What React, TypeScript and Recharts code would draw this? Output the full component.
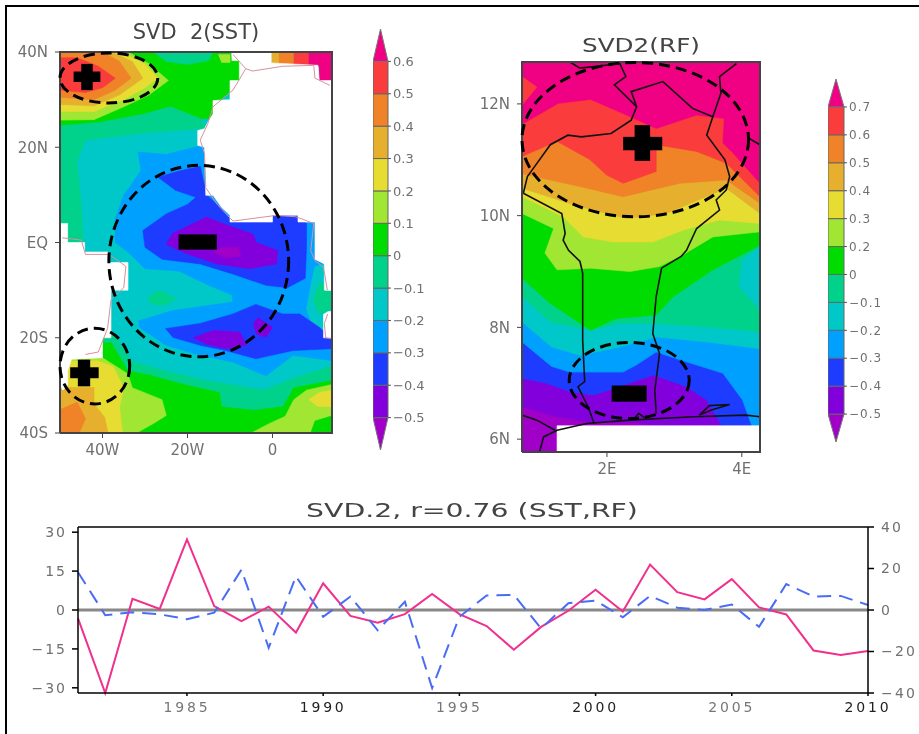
import React from "react";
import {
  Bar,
  BarChart,
  Line,
  LineChart,
  ReferenceLine,
  Scatter,
  ScatterChart,
  XAxis,
  YAxis,
} from "recharts";

type Pt = [number, number];

const MAGENTA = "#f00082";
const RED = "#fa3c3c";
const ORANGE = "#f08228";
const GOLD = "#e6af2d";
const YELLOW = "#e6dc32";
const LIME = "#a0e632";
const GREEN = "#00dc00";
const TEAL = "#00d28c";
const CYAN = "#00c8c8";
const SKY = "#00a0ff";
const BLUE = "#1e3cff";
const VIOLET = "#8200dc";
const PURPLE = "#a000c8";

// colour bars, bottom to top
const scaleColors = [PURPLE, VIOLET, BLUE, SKY, CYAN, TEAL, GREEN, LIME, YELLOW, GOLD, ORANGE, RED, MAGENTA];
const sstScaleLabels = ["-0.5", "-0.4", "-0.3", "-0.2", "-0.1", "0", "0.1", "0.2", "0.3", "0.4", "0.5", "0.6"];
const rfScaleLabels = ["-0.5", "-0.4", "-0.3", "-0.2", "-0.1", "0", "0.2", "0.3", "0.4", "0.5", "0.6", "0.7"];

// time series
const years = [
  1981, 1982, 1983, 1984, 1985, 1986, 1987, 1988, 1989, 1990, 1991, 1992, 1993, 1994, 1995,
  1996, 1997, 1998, 1999, 2000, 2001, 2002, 2003, 2004, 2005, 2006, 2007, 2008, 2009, 2010,
];
const sstSeries = [
  -3.2, -32, 4.3, 0.4, 27.2, 1.5, -4.3, 1.3, -8.7, 10.3, -2.3, -4.9, -1.6, 6.2, -1.6,
  -6.2, -15.3, -6.5, -0.3, 7.8, -0.6, 17.5, 6.9, 4.1, 11.9, 1, -1.7, -15.6, -17.3, -15.8,
];
const rfSeries = [
  18.2, -2.5, -1.1, -2.1, -4.4, -1.3, 19.4, -18.2, 16.2, -3.3, 6.5, -9.8, 4, -37.6, -3.3,
  7, 7.3, -8.9, 3.3, 4.5, -3.5, 6.8, 1.1, 0, 2.6, -8.1, 12.5, 6.5, 6.8, 2.4,
];
const yearTicks = [1985, 1990, 1995, 2000, 2005, 2010];
const darkYears = [1990, 2000, 2010];
const leftTicks = [-30, -15, 0, 15, 30];
const rightTicks = [-40, -20, 0, 20, 40];

// SST map, contour regions in lon/lat, painted in order
const sstLayers: { color: string; points: Pt[] }[] = [
  { color: CYAN, points: [[-50, -40], [14, -40], [14, 40], [-50, 40]] },
  { color: GREEN, points: [[-50, 24.5], [-40.7, 25.2], [-30, 27], [-24, 28.5], [-17, 26], [-14, 26], [-12, 30], [-7, 34], [-7, 40], [-50, 40]] },
  { color: TEAL, points: [[-28, 40], [-25, 38], [-20, 37.4], [-15, 38.2], [-14, 40]] },
  { color: LIME, points: [[-12.8, 39.5], [-10, 39.5], [-10, 37.8], [-12, 37.8]] },
  { color: TEAL, points: [[-50, 24.5], [-40.7, 25.2], [-30, 27], [-24, 28.5], [-17, 26], [-15.5, 24], [-30, 23], [-44, 21.5], [-46, 17], [-45, 8], [-44.5, 0], [-50, 0]] },
  { color: GOLD, points: [[-0.3, 37], [2, 37], [2, 40], [-0.3, 40]] },
  { color: ORANGE, points: [[1.5, 37], [5, 37], [5, 40], [1.5, 40]] },
  { color: RED, points: [[5, 37], [8.5, 37], [8.5, 40], [5, 40]] },
  { color: MAGENTA, points: [[8.5, 37], [11, 37], [11, 34], [14, 34], [14, 40], [8.5, 40]] },
  { color: LIME, points: [[-50, 25.7], [-42, 25.8], [-35, 28.5], [-29, 31], [-24.5, 34], [-29, 37.5], [-34, 40], [-50, 40]] },
  { color: YELLOW, points: [[-50, 27.5], [-42, 27.5], [-35, 30], [-30, 32.5], [-27, 34.5], [-30, 37.5], [-36, 40], [-50, 40]] },
  { color: GOLD, points: [[-50, 29], [-42, 28.7], [-36, 31], [-30.5, 34.5], [-33, 38], [-38, 40], [-50, 40]] },
  { color: ORANGE, points: [[-50, 30.5], [-42, 30], [-37, 32], [-33.3, 34.5], [-36, 38], [-40, 40], [-50, 40]] },
  { color: RED, points: [[-50, 32], [-44, 31.5], [-40, 32.5], [-37, 34.5], [-41, 37], [-46, 38.8], [-50, 38.8]] },
  { color: SKY, points: [[-31.7, 19], [-25, 18.5], [-16, 20.5], [14, 20], [14, -24.8], [4.8, -23.7], [-1.5, -28], [-9.3, -25.1], [-17, -23.7], [-25, -21.6], [-31.3, -17.8], [-31.5, -16.5], [-23.5, -14.3], [-9.3, -12.5], [-9.5, -11], [-15, -9], [-22, -6], [-30, -5.5], [-34, -2], [-37, 0], [-37, 5], [-35, 10], [-31, 15]] },
  { color: CYAN, points: [[10, -5], [9, -9], [8, -14], [10, -19], [14, -21], [14, -4]] },
  { color: TEAL, points: [[11, -8.5], [9.5, -12], [11, -15], [14, -14], [14, -9]] },
  { color: TEAL, points: [[-29.3, -11.5], [-26.6, -10], [-22.7, -11.8], [-25.8, -13.2], [-28.6, -12.9]] },
  { color: BLUE, points: [[-27, 13.7], [-22, 15], [-17, 16], [-15.5, 10], [-13, 8], [-10, 5], [1, 6], [6, 6], [8, 4], [8, -1], [7.7, -7.5], [3.5, -9.5], [-1.5, -9], [-9, -6.7], [-17, -4.5], [-26, -3.5], [-30, -1], [-30.5, 2.5], [-25, 6], [-20, 8], [-18, 9.5], [-23, 11]] },
  { color: VIOLET, points: [[-25, -0.3], [-23.5, 1.9], [-15.6, 5.3], [-9.3, 3.2], [-4.6, 1.8], [-3.8, 0], [1.2, -1.7], [1, -4.5], [-5.4, -5.5], [-13, -4.5], [-20, -2.4], [-24.6, -0.6]] },
  { color: PURPLE, points: [[-12, -1], [-8, -1], [-7.5, -2.8], [-11, -3.2], [-14, -2]] },
  { color: BLUE, points: [[-25.2, -18.1], [-17, -17], [-9.3, -15], [-3.9, -13], [2.4, -15], [6.4, -15], [11, -17.8], [14, -20.2], [14, -22.3], [4.8, -22.7], [-3.9, -24.4], [-11, -22.7], [-17, -21.6], [-23.5, -19.9]] },
  { color: VIOLET, points: [[-18.7, -20], [-14, -18.5], [-7.7, -18.8], [-6.2, -21.6], [-11, -22.3], [-15.7, -21.3]] },
  { color: VIOLET, points: [[-4.6, -17.1], [-3.4, -15.8], [0, -17.8], [-1.5, -19.9], [-3.9, -19.2]] },
  { color: TEAL, points: [[-38, -18.5], [-33, -25], [-25, -27], [-15.6, -29], [-2, -31], [4.8, -28.5], [14, -26], [14, -40], [-50, -40], [-50, -20]] },
  { color: GREEN, points: [[-38, -21], [-34, -27], [-29, -27.8], [-20, -30], [-12.5, -31.5], [-12, -34.5], [-4.5, -35.2], [2.5, -34.5], [5, -30.5], [14, -29], [14, -40], [-50, -40], [-50, -21]] },
  { color: LIME, points: [[-5, -40], [-0.7, -38], [3, -36.5], [5, -33], [8, -31], [14, -29.8], [14, -40]] },
  { color: GREEN, points: [[9, -40], [10, -37.5], [14, -36.4], [14, -40]] },
  { color: YELLOW, points: [[8.5, -33], [11, -31.5], [14, -31], [14, -34.5], [10.5, -34.4]] },
  { color: LIME, points: [[-40, -24.2], [-34, -27.6], [-33, -30.5], [-26, -33], [-25, -36.3], [-28, -38], [-32, -40], [-50, -40], [-50, -24]] },
  { color: YELLOW, points: [[-41.5, -24.8], [-37.5, -26], [-35, -30.5], [-36, -34.6], [-35.3, -40], [-50, -40], [-50, -25]] },
  { color: GOLD, points: [[-42, -30.4], [-42, -33.9], [-39.5, -36.7], [-38.7, -40], [-50, -40], [-50, -30.4]] },
  { color: ORANGE, points: [[-46, -33.5], [-44, -37], [-45.5, -40], [-50, -40], [-50, -35]] },
];
const sstLand: Pt[][] = [
  [[-9.7, 40], [-0.3, 40], [-0.3, 37.7], [10.7, 37.2], [11, 34], [14, 34], [14, -10.1], [12.2, -10], [12.2, -4.5], [10, -3.5], [10, 4.3], [6, 4.3], [6, 5.7], [0, 5.7], [0, 4.3], [-10, 4.3], [-10, 5.7], [-12, 7.4], [-14, 9.9], [-15.7, 9.9], [-16, 20], [-17.6, 20.4], [-17.6, 23.5], [-16, 23.9], [-15, 25.6], [-14, 27], [-14, 29.8], [-10, 30], [-10, 34], [-7.8, 34], [-7.8, 38.2], [-9.6, 38.2]],
  [[13, -14.5], [14, -14.5], [14, -20], [12, -20], [12, -15]],
  [[-50, 4], [-48.2, 4], [-48.2, 0], [-44.2, 0], [-44.2, -2], [-38.7, -2], [-38.7, -4.2], [-34, -4.2], [-34, -10], [-38, -10], [-38, -20], [-40, -20], [-40, -24.2], [-47.3, -24.5], [-48.2, -27], [-48.2, -30], [-49.3, -31], [-50, -30]],
];
const sstCoasts: Pt[][] = [
  [[-9.3, 39.5], [-6.3, 36.5], [-4.7, 36], [2.4, 37], [9.7, 37.2], [10, 34.5], [13.5, 33]],
  [[-6.3, 36.5], [-9.3, 32], [-14, 28.5], [-15.2, 25], [-17, 21.5], [-16, 18.7], [-15.7, 11.5], [-13, 8], [-9.3, 4.5], [0.9, 5.7], [5.5, 5.4], [9.7, 4], [9, -1.7], [10, -3.8], [12, -5.2], [12.9, -10]],
  [[13, -15], [12.2, -17], [12.5, -20], [13.8, -20.2]],
  [[-49.5, 1], [-45, 0.5], [-44, -2.5], [-38.5, -2.5], [-34.5, -5], [-35, -9.5], [-38, -12], [-38.8, -18], [-41, -23], [-44, -23.5]],
];
// opposite corners of the dashed rings and of the plus / minus marks
const sstEllipses: Pt[][] = [
  [[-50, 29.3], [-27, 39.8]],
  [[-38.5, -24], [3.8, 16.2]],
  [[-50, -33.9], [-33.6, -18]],
];
const sstBlocks: Pt[][] = [
  [[-45, 32], [-42.3, 37.5]],
  [[-46.8, 33.7], [-40.5, 35.9]],
  [[-22.1, -1.5], [-13.1, 1.7]],
  [[-45.8, -30.2], [-42.9, -24.6]],
  [[-47.6, -28.5], [-40.9, -26.2]],
];

// RF map, lower edge of each contour band, west to east
const rfVioletEdge: Pt[] = [[0.74, 6.58], [1.2, 6.42], [1.75, 6.3], [2.4, 6.3], [3, 6.2], [4.27, 6.2]];
const rfBlueEdge: Pt[] = [[0.74, 7.09], [1.11, 7], [1.45, 6.85], [1.8, 6.79], [2.09, 6.9], [2.69, 7.15], [3.18, 6.94], [3.48, 6.7], [3.72, 6.2], [4.27, 6.2]];
const rfSkyEdge: Pt[] = [[0.74, 7.74], [1.18, 7.3], [1.45, 7.2], [2.24, 7.2], [2.44, 7.33], [2.73, 7.56], [3.08, 7.42], [3.72, 7.18], [4.01, 6.7], [4.16, 6.2], [4.27, 6.2]];
const rfCyanEdge: Pt[] = [[0.74, 8.1], [1.18, 7.65], [1.6, 7.5], [2.19, 7.65], [2.73, 7.83], [3.48, 7.74], [4.27, 7.62]];
const rfTealEdge: Pt[] = [[0.74, 8.55], [1.16, 8.1], [1.76, 7.95], [2.19, 8.07], [2.73, 8.07], [3.48, 8.01], [4.27, 7.92]];
const rfGreenEdge: Pt[] = [[0.74, 8.88], [1.16, 8.43], [1.76, 7.95], [2.14, 8.16], [2.73, 8.22], [2.98, 8.55], [3.57, 9.03], [4.27, 9.47]];
const rfLimeEdge: Pt[] = [[0.74, 10.04], [1.21, 9.77], [1.08, 9.33], [1.26, 9.03], [1.76, 9.06], [2.34, 9], [2.78, 9.09], [3.13, 9.3], [3.57, 9.62], [4.27, 9.71]];
const rfYellowEdge: Pt[] = [[0.74, 10.34], [1.35, 9.98], [1.65, 9.62], [2.09, 9.53], [2.68, 9.53], [3.13, 9.74], [3.67, 9.92], [4.27, 9.86]];
const rfGoldEdge: Pt[] = [[0.74, 10.49], [1.6, 10.16], [2.29, 9.95], [2.88, 10.04], [3.47, 10.34], [3.77, 10.49], [4.27, 10.04]];
const rfOrangeEdge: Pt[] = [[0.74, 10.75], [1.6, 10.52], [2.24, 10.34], [3.08, 10.58], [3.77, 10.64], [4.27, 10.22]];
const rfRedEdge: Pt[] = [[0.74, 11.06], [1.26, 11.33], [1.75, 11], [1.99, 10.73], [2.24, 10.58], [2.73, 10.79], [2.73, 11.27], [3.33, 11.15], [3.77, 10.94], [4.27, 10.34]];
const rfMagentaEdge: Pt[] = [[0.76, 11.65], [1.28, 12.01], [1.76, 12.08], [2.29, 11.8], [2.73, 11.56], [3.33, 11.8], [3.74, 11.74], [3.72, 11.3], [3.87, 11.12], [4.27, 10.58]];
const rfTop: Pt[] = [[4.27, 12.75], [0.74, 12.75]];
const rfLayers: { color: string; points: Pt[] }[] = [
  { color: PURPLE, points: [[0.74, 5.77], [4.27, 5.77], [4.27, 12.75], [0.74, 12.75]] },
  { color: VIOLET, points: [...rfVioletEdge, ...rfTop] },
  { color: BLUE, points: [...rfBlueEdge, ...rfTop] },
  { color: SKY, points: [...rfSkyEdge, ...rfTop] },
  { color: CYAN, points: [...rfCyanEdge, ...rfTop] },
  { color: TEAL, points: [...rfTealEdge, ...rfTop] },
  { color: CYAN, points: [[4.27, 9.45], [4.01, 9.2], [3.96, 8.73], [4.27, 8.31]] },
  { color: GREEN, points: [...rfGreenEdge, ...rfTop] },
  { color: LIME, points: [...rfLimeEdge, ...rfTop] },
  { color: YELLOW, points: [...rfYellowEdge, ...rfTop] },
  { color: GOLD, points: [...rfGoldEdge, ...rfTop] },
  { color: ORANGE, points: [...rfOrangeEdge, ...rfTop] },
  { color: RED, points: [...rfRedEdge, ...rfTop] },
  { color: MAGENTA, points: [...rfMagentaEdge, ...rfTop] },
  { color: RED, points: [[0.74, 12.49], [0.96, 12.3], [0.74, 11.98]] },
];
const rfLand: Pt[][] = [[[1.26, 5.77], [1.26, 6.24], [4.27, 6.24], [4.27, 5.77]]];
const rfBorders: Pt[][] = [
  [[1, 5.77], [1.06, 6.04], [1.26, 6.16], [1.7, 6.28], [2.34, 6.34], [3.28, 6.4], [4.06, 6.43], [4.27, 6.4]],
  [[0.74, 6.43], [0.96, 6.34], [1.23, 6.16]],
  [[1.81, 6.28], [1.72, 6.58], [1.57, 6.94], [1.67, 7.03], [1.64, 7.77], [1.64, 8.97], [1.6, 9.18], [1.43, 9.38], [1.35, 9.56], [1.38, 9.68], [1.33, 10.04], [0.76, 10.4]],
  [[0.76, 10.4], [0.82, 10.7], [0.94, 10.9], [1.16, 11.27], [1.42, 11.44], [1.62, 11.41], [2.06, 11.47], [2.36, 11.71], [2.44, 11.95], [2.11, 12.34], [2.28, 12.49], [2.18, 12.75]],
  [[2.44, 11.95], [2.36, 12.22], [2.83, 12.4], [3.27, 11.92], [3.57, 11.77], [3.48, 11.44], [3.75, 11], [3.82, 10.7], [3.77, 10.46], [3.62, 10.28], [3.67, 10.1], [3.33, 9.77], [3.18, 9.38], [3.1, 9.27], [2.81, 9.06], [2.73, 8.55], [2.68, 7.89], [2.78, 7.53], [2.71, 6.88], [2.73, 6.46]],
  [[3.57, 11.77], [3.69, 12.19], [3.67, 12.49], [3.92, 12.72]],
  [[4.11, 11.38], [4.27, 11.27]],
  [[1.45, 12.75], [1.6, 12.64], [2.18, 12.72]],
  [[3.37, 6.43], [3.52, 6.6], [3.82, 6.62], [3.55, 6.52], [3.37, 6.43]],
  [[2.4, 6.36], [2.47, 6.46], [2.56, 6.38]],
];
const rfEllipses: Pt[][] = [
  [[0.74, 9.98], [4.1, 12.74]],
  [[1.44, 6.37], [3.22, 7.73]],
];
const rfBlocks: Pt[][] = [
  [[2.41, 10.98], [2.64, 11.62]],
  [[2.24, 11.17], [2.82, 11.41]],
  [[2.07, 6.67], [2.59, 6.96]],
];

const FONT = "'DejaVu Sans', sans-serif";
const TICK = "#707070";

const toPoints = (pts: Pt[]) => pts.map(([lon, lat]) => ({ lon, lat }));
const noDot = () => null;

// Scatter hands its scaled points to these, so the rings and blocks follow the axes
const ringLine = (lp: any) => {
  const [a, b] = lp.points;
  return (
    <ellipse
      cx={(a.x + b.x) / 2}
      cy={(a.y + b.y) / 2}
      rx={Math.abs(b.x - a.x) / 2}
      ry={Math.abs(b.y - a.y) / 2}
      fill="none"
      stroke="#000"
      strokeWidth={3}
      strokeDasharray="11 6"
    />
  );
};
const blockLine = (lp: any) => {
  const [a, b] = lp.points;
  return (
    <rect
      x={Math.min(a.x, b.x)}
      y={Math.min(a.y, b.y)}
      width={Math.abs(b.x - a.x)}
      height={Math.abs(b.y - a.y)}
      fill="#000"
    />
  );
};

interface MapProps {
  left: number;
  top: number;
  width: number;
  height: number;
  plotTop: number;
  lonDomain: number[];
  latDomain: number[];
  lonTicks: number[];
  latTicks: number[];
  lonLabel: (v: number) => string;
  latLabel: (v: number) => string;
  layers: { color: string; points: Pt[] }[];
  land: Pt[][];
  lines: Pt[][];
  lineColor: string;
  lineWidth: number;
  ellipses: Pt[][];
  blocks: Pt[][];
}

function MapPanel(p: MapProps) {
  const tick = { fontSize: 15, fill: TICK, fontFamily: FONT };
  const [x0, x1] = p.lonDomain;
  const [y0, y1] = p.latDomain;
  const frame: Pt[] = [[x0, y0], [x1, y0], [x1, y1], [x0, y1], [x0, y0]];
  return (
    <div style={{ position: "absolute", left: p.left, top: p.top }}>
      <ScatterChart width={p.width} height={p.height} margin={{ top: p.plotTop, bottom: 0, left: 0, right: 8 }}>
        <XAxis
          type="number"
          dataKey="lon"
          domain={p.lonDomain}
          ticks={p.lonTicks}
          tickFormatter={p.lonLabel}
          tick={tick}
          tickSize={5}
          tickMargin={6}
          stroke="#444"
          height={30}
          interval={0}
        />
        <YAxis
          type="number"
          dataKey="lat"
          domain={p.latDomain}
          ticks={p.latTicks}
          tickFormatter={p.latLabel}
          tick={tick}
          tickSize={5}
          tickMargin={7}
          stroke="#444"
          width={60}
          interval={0}
        />
        {p.layers.map((l, i) => (
          <Scatter
            key={"layer" + i}
            data={toPoints(l.points)}
            shape={noDot}
            line={{ fill: l.color, stroke: l.color, strokeWidth: 0.6 }}
            isAnimationActive={false}
          />
        ))}
        {p.land.map((l, i) => (
          <Scatter
            key={"land" + i}
            data={toPoints(l)}
            shape={noDot}
            line={{ fill: "#fff", stroke: "#fff", strokeWidth: 0.6 }}
            isAnimationActive={false}
          />
        ))}
        {p.lines.map((l, i) => (
          <Scatter
            key={"line" + i}
            data={toPoints(l)}
            shape={noDot}
            line={{ fill: "none", stroke: p.lineColor, strokeWidth: p.lineWidth }}
            isAnimationActive={false}
          />
        ))}
        <Scatter
          data={toPoints(frame)}
          shape={noDot}
          line={{ fill: "none", stroke: "#444", strokeWidth: 2 }}
          isAnimationActive={false}
        />
        {p.blocks.map((b, i) => (
          <Scatter key={"block" + i} data={toPoints(b)} shape={noDot} line={blockLine} isAnimationActive={false} />
        ))}
        {p.ellipses.map((e, i) => (
          <Scatter key={"ring" + i} data={toPoints(e)} shape={noDot} line={ringLine} isAnimationActive={false} />
        ))}
      </ScatterChart>
    </div>
  );
}

function ScaleSegment(props: any) {
  const { x, y, width, height, fill, segment } = props;
  if (segment === 0) {
    return <path d={`M${x},${y} L${x + width},${y} L${x + width / 2},${y + height} Z`} fill={fill} stroke="#777" />;
  }
  if (segment === scaleColors.length - 1) {
    return <path d={`M${x},${y + height} L${x + width},${y + height} L${x + width / 2},${y} Z`} fill={fill} stroke="#777" />;
  }
  return <rect x={x} y={y} width={width} height={height} fill={fill} stroke="#666" strokeWidth={1} />;
}

function ColorScale({ left, top, height, barWidth, labels, fontSize, spacing }: any) {
  const row: Record<string, number | string> = { name: "scale" };
  scaleColors.forEach((_, i) => {
    row["s" + i] = 1;
  });
  return (
    <div style={{ position: "absolute", left, top }}>
      <BarChart
        width={barWidth + 50}
        height={height}
        data={[row]}
        margin={{ top: 0, right: 0, bottom: 0, left: 0 }}
        barCategoryGap={0}
      >
        <XAxis dataKey="name" hide />
        <YAxis
          orientation="right"
          type="number"
          domain={[0, scaleColors.length]}
          ticks={labels.map((_: string, i: number) => i + 1)}
          tickFormatter={(v: number) => labels[v - 1].replace("-", "\u2212")}
          tick={{ fontSize, fill: TICK, fontFamily: FONT, letterSpacing: spacing }}
          tickLine={{ stroke: "#555" }}
          tickSize={3}
          axisLine={false}
          width={50}
          interval={0}
        />
        {scaleColors.map((c, i) => (
          <Bar
            key={c}
            dataKey={"s" + i}
            stackId="scale"
            fill={c}
            isAnimationActive={false}
            shape={(s: any) => <ScaleSegment {...s} segment={i} />}
          />
        ))}
      </BarChart>
    </div>
  );
}

function YearTick({ x, y, payload }: any) {
  return (
    <text
      x={x}
      y={y + 14}
      textAnchor="middle"
      fontSize={14}
      fontFamily={FONT}
      letterSpacing={2.8}
      fill={darkYears.includes(payload.value) ? "#222" : "#777"}
    >
      {payload.value}
    </text>
  );
}

const minus = (v: number) => String(v).replace("-", "\u2212");

const seriesData = years.map((year, i) => ({ year, sst: sstSeries[i], rf: rfSeries[i] }));

const titleStyle: React.CSSProperties = {
  position: "absolute",
  fontFamily: FONT,
  color: "#444",
  whiteSpace: "pre",
};

export default function App() {
  return (
    <div
      style={{
        position: "fixed",
        left: 0,
        top: 0,
        width: 919,
        height: 734,
        background: "#fff",
        overflow: "hidden",
        filter: "blur(0.6px)",
      }}
    >
      <div style={{ position: "absolute", left: 5, top: 5, width: 930, height: 760, border: "2px solid #000" }} />

      <div style={{ ...titleStyle, left: 196, top: 20, fontSize: 21, transform: "translateX(-50%)" }}>SVD  2(SST)</div>
      <div style={{ ...titleStyle, left: 641, top: 34, fontSize: 19, transform: "translateX(-50%) scaleX(1.3)" }}>SVD2(RF)</div>
      <div style={{ ...titleStyle, left: 472, top: 499, fontSize: 19, transform: "translateX(-50%) scaleX(1.49)" }}>SVD.2, r=0.76 (SST,RF)</div>

      <MapPanel
        left={0}
        top={32}
        width={340}
        height={431}
        plotTop={20}
        lonDomain={[-50, 14]}
        latDomain={[-40, 40]}
        lonTicks={[-40, -20, 0]}
        latTicks={[-40, -20, 0, 20, 40]}
        lonLabel={(v) => (v === 0 ? "0" : `${-v}W`)}
        latLabel={(v) => (v === 0 ? "EQ" : v > 0 ? `${v}N` : `${-v}S`)}
        layers={sstLayers}
        land={sstLand}
        lines={sstCoasts}
        lineColor="#d9909c"
        lineWidth={1}
        ellipses={sstEllipses}
        blocks={sstBlocks}
      />

      <MapPanel
        left={462}
        top={42}
        width={306}
        height={440}
        plotTop={20}
        lonDomain={[0.74, 4.27]}
        latDomain={[5.77, 12.75]}
        lonTicks={[2, 4]}
        latTicks={[6, 8, 10, 12]}
        lonLabel={(v) => `${v}E`}
        latLabel={(v) => `${v}N`}
        layers={rfLayers}
        land={rfLand}
        lines={rfBorders}
        lineColor="#111"
        lineWidth={1.6}
        ellipses={rfEllipses}
        blocks={rfBlocks}
      />

      <ColorScale left={373} top={29} height={421} barWidth={15} labels={sstScaleLabels} fontSize={13} spacing={0} />
      <ColorScale left={828} top={79} height={363} barWidth={16} labels={rfScaleLabels} fontSize={12} spacing={1} />

      <div style={{ position: "absolute", left: 0, top: 510 }}>
        <LineChart width={919} height={213} data={seriesData} margin={{ top: 17, right: 0, bottom: 0, left: 0 }}>
          <XAxis
            dataKey="year"
            type="number"
            domain={[1981, 2010]}
            ticks={yearTicks}
            tick={<YearTick />}
            tickSize={3}
            stroke="#000"
            strokeWidth={1.5}
            height={30}
            interval={0}
          />
          <YAxis
            yAxisId="left"
            domain={[-32, 32]}
            ticks={leftTicks}
            tickFormatter={minus}
            tick={{ fontSize: 14, fill: TICK, fontFamily: FONT, letterSpacing: 2 }}
            tickSize={6}
            tickMargin={5}
            stroke="#000"
            strokeWidth={1.5}
            width={78}
            interval={0}
          />
          <YAxis
            yAxisId="right"
            orientation="right"
            domain={[-40, 40]}
            ticks={rightTicks}
            tickFormatter={minus}
            tick={{ fontSize: 14, fill: TICK, fontFamily: FONT, letterSpacing: 2.2 }}
            tickSize={6}
            tickMargin={7}
            stroke="#000"
            strokeWidth={1.5}
            width={51}
            interval={0}
          />
          <ReferenceLine yAxisId="left" y={32} stroke="#000" strokeWidth={1.5} />
          <ReferenceLine yAxisId="left" y={0} stroke="#888" strokeWidth={3} />
          <Line
            yAxisId="left"
            dataKey="sst"
            stroke="#f0308c"
            strokeWidth={2}
            dot={false}
            isAnimationActive={false}
          />
          <Line
            yAxisId="right"
            dataKey="rf"
            stroke="#4a6cf5"
            strokeWidth={2}
            strokeDasharray="14 8"
            dot={false}
            isAnimationActive={false}
          />
        </LineChart>
      </div>
    </div>
  );
}
